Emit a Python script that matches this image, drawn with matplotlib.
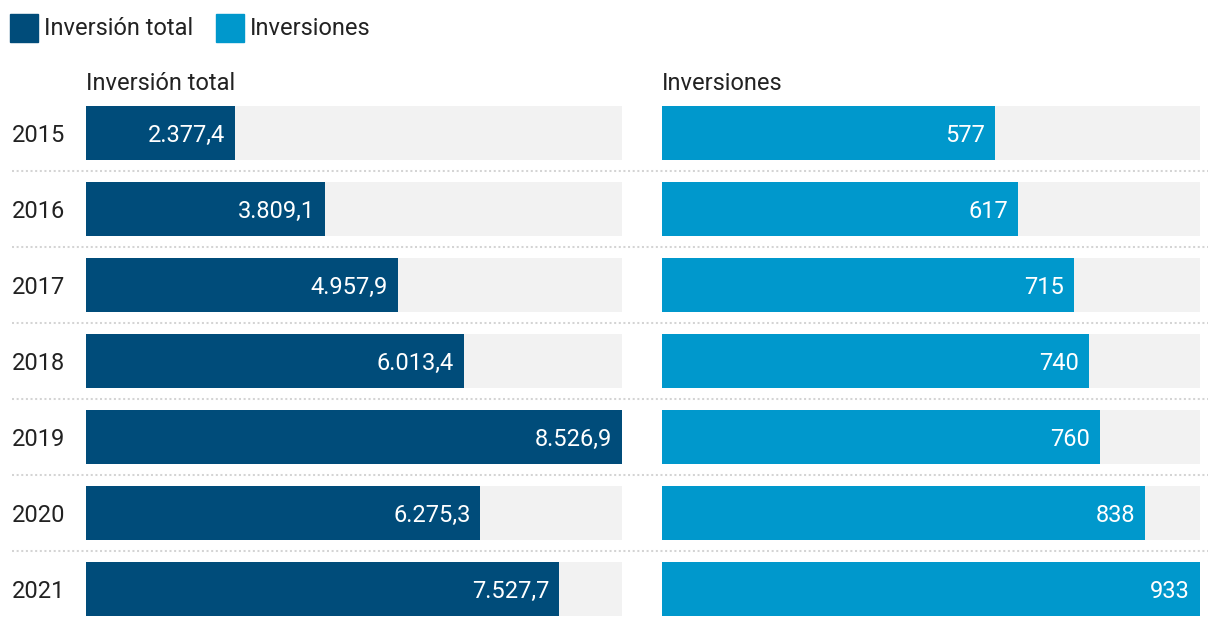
import matplotlib.pyplot as plt
from matplotlib.patches import Rectangle

plt.rcParams['font.family'] = ['Roboto', 'DejaVu Sans']

anios = ['2015', '2016', '2017', '2018', '2019', '2020', '2021']
inversion_total = [2377.4, 3809.1, 4957.9, 6013.4, 8526.9, 6275.3, 7527.7]
inversiones = [577, 617, 715, 740, 760, 838, 933]

COLOR_OSCURO = '#004c7a'
COLOR_CLARO = '#0098cc'
COLOR_FONDO = '#f2f2f2'
COLOR_TEXTO = '#222222'
TAM = 17

W, H = 1220, 628
PASO = 76  # px entre filas
BASE = 8.6 / PASO  # desplazamiento del baseline respecto al centro de la fila


def formato_es(valor, decimales):
    """Formato con punto de miles y coma decimal."""
    texto = f'{valor:,.{decimales}f}'
    return texto.replace(',', 'X').replace('.', ',').replace('X', '.')


def ejes_px(fig, x0, x1, y0, y1):
    return fig.add_axes([x0 / W, 1 - y1 / H, (x1 - x0) / W, (y1 - y0) / H])


fig = plt.figure(figsize=(W / 100, H / 100), dpi=100)

# filas: centro de la primera en y=133
y_arriba, y_abajo = 95, 95 + PASO * len(anios)

# lineas punteadas de separacion y etiquetas de anio
fondo = ejes_px(fig, 0, W, y_arriba, y_abajo)
fondo.set_xlim(0, W)
fondo.set_ylim(len(anios) - 0.5, -0.5)
fondo.axis('off')
for i in range(len(anios) - 1):
    fondo.plot([12, 1208], [i + 0.5, i + 0.5], color='#d4d4d4', lw=1.45,
               linestyle=(0, (1, 1.3)), dash_capstyle='butt')
for i, anio in enumerate(anios):
    fondo.text(12, i + BASE, anio, ha='left', va='baseline', fontsize=TAM, color=COLOR_TEXTO)

paneles = [
    (86, 622, inversion_total, COLOR_OSCURO, 'Inversión total', 1),
    (662, 1200, inversiones, COLOR_CLARO, 'Inversiones', 0),
]
for x0, x1, valores, color, titulo, dec in paneles:
    ax = ejes_px(fig, x0, x1, y_arriba, y_abajo)
    maximo = max(valores)
    pos = range(len(valores))
    ax.barh(pos, [maximo] * len(valores), height=54 / PASO, color=COLOR_FONDO)
    ax.barh(pos, valores, height=54 / PASO, color=color)
    for i, v in enumerate(valores):
        ax.text(v - maximo * 10 / (x1 - x0), i + BASE, formato_es(v, dec), ha='right',
                va='baseline', fontsize=TAM, color='white')
    ax.set_xlim(0, maximo)
    ax.set_ylim(len(valores) - 0.5, -0.5)
    ax.axis('off')
    fig.text(x0 / W, 1 - 90 / H, titulo, ha='left', va='baseline', fontsize=TAM,
             color=COLOR_TEXTO)

# leyenda
for x, color, etiqueta in [(10, COLOR_OSCURO, 'Inversión total'), (216, COLOR_CLARO, 'Inversiones')]:
    fig.add_artist(Rectangle((x / W, 1 - 42 / H), 28 / W, 28 / H, color=color,
                             transform=fig.transFigure))
    fig.text((x + 34) / W, 1 - 35 / H, etiqueta, ha='left', va='baseline', fontsize=TAM,
             color=COLOR_TEXTO)

plt.savefig('out.png', dpi=100)
